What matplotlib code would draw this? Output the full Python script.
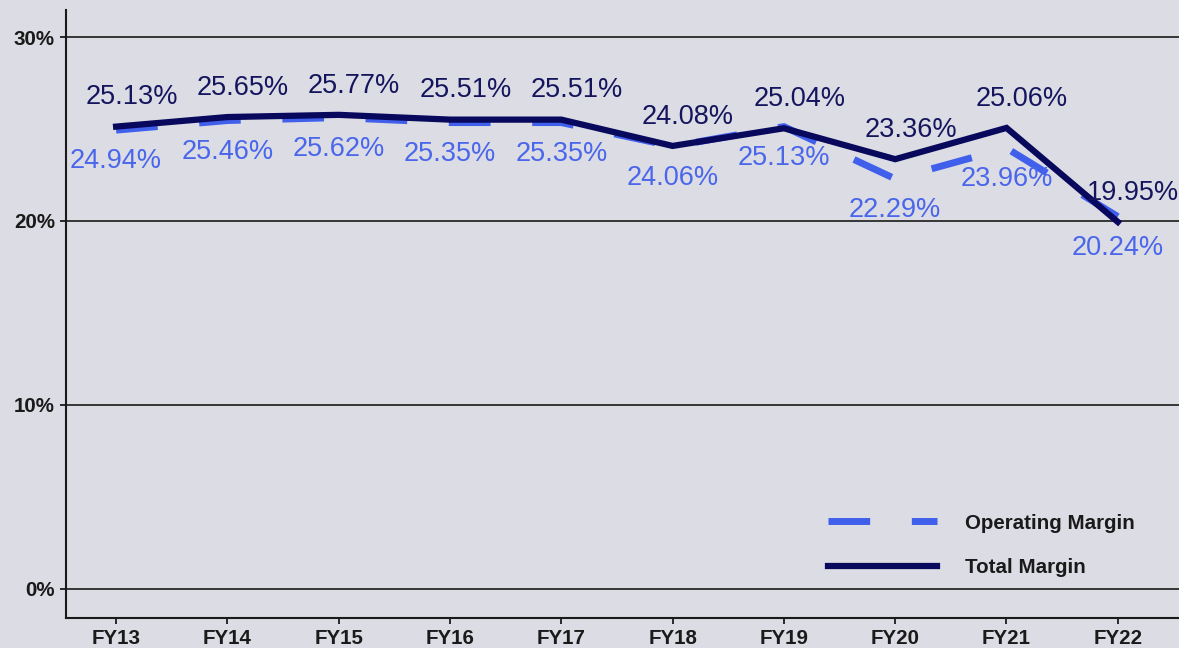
import matplotlib
matplotlib.use("Agg")
import matplotlib.pyplot as plt
from matplotlib.ticker import FuncFormatter

years = ["FY13", "FY14", "FY15", "FY16", "FY17", "FY18", "FY19", "FY20", "FY21", "FY22"]
operating_margin = [24.94, 25.46, 25.62, 25.35, 25.35, 24.06, 25.13, 22.29, 23.96, 20.24]
total_margin = [25.13, 25.65, 25.77, 25.51, 25.51, 24.08, 25.04, 23.36, 25.06, 19.95]
y_ticks = [0, 10, 20, 30]

BG = "#DCDCE4"
BLUE = "#4060EC"
NAVY = "#08085C"

plt.rcParams['font.family'] = ['Liberation Sans', 'DejaVu Sans']

fig = plt.figure(figsize=(11.79, 6.48), dpi=100, facecolor=BG)
ax = fig.add_axes([0.056, 0.0463, 0.944, 0.9383])
ax.set_facecolor(BG)

x = list(range(len(years)))

for t in y_ticks:
    ax.axhline(t, color="#1a1a1a", lw=1.2, zorder=1)

ax.plot(x, operating_margin, color=BLUE, lw=5, dashes=(6, 6),
        solid_capstyle='butt', dash_capstyle='butt', label="Operating Margin", zorder=3)
ax.plot(x, total_margin, color=NAVY, lw=4.5, solid_joinstyle='miter',
        label="Total Margin", zorder=4)

for xi, v in zip(x, total_margin):
    ax.annotate(f"{v:.2f}%", (xi, v), xytext=(11, 21), textcoords="offset points",
                ha="center", va="center", fontsize=19.5, color="#15155E", zorder=5)
for xi, v in zip(x, operating_margin):
    ax.annotate(f"{v:.2f}%", (xi, v), xytext=(0, -22.5), textcoords="offset points",
                ha="center", va="center", fontsize=19.5, color="#4A66EA", zorder=5)

ax.set_xlim(-0.45, 9.55)
ax.set_ylim(-1.58, 31.47)
ax.set_xticks(x)
ax.set_xticklabels(years)
ax.set_yticks(y_ticks)
ax.yaxis.set_major_formatter(FuncFormatter(lambda v, p: f"{v:.0f}%"))
for lbl in ax.get_xticklabels() + ax.get_yticklabels():
    lbl.set_fontweight("bold")
    lbl.set_fontsize(14.8)
    lbl.set_color("#1a1a1a")
ax.tick_params(axis="both", length=4.5, width=1.3, color="#1a1a1a", pad=3.5)

for s in ["top", "right"]:
    ax.spines[s].set_visible(False)
for s in ["left", "bottom"]:
    ax.spines[s].set_color("#1a1a1a")
    ax.spines[s].set_linewidth(1.5)

leg = ax.legend(loc="center left", bbox_to_anchor=(0.6756, 0.1192), frameon=False,
                handlelength=5.3, handletextpad=1.35, borderpad=0, labelspacing=1.25,
                prop={"weight": "bold", "size": 14.8})
for t in leg.get_texts():
    t.set_color("#1a1a1a")

fig.savefig("out.png", dpi=100, facecolor=BG)
